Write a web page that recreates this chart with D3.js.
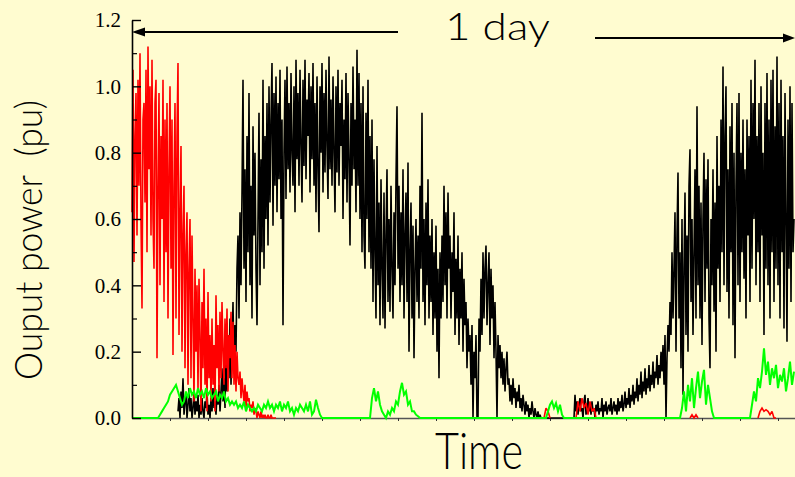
<!DOCTYPE html>
<html><head><meta charset="utf-8">
<script src="https://cdn.jsdelivr.net/npm/d3@7"></script>
<style>html,body{margin:0;padding:0;background:#FFFCD0;} svg{display:block;}</style>
</head><body><svg id="c" width="795" height="477"></svg>
<script>
// ---- data: time axis in samples (t = 0 .. 663) ----
const tMax = 663;
const yTicks = [0, 0.2, 0.4, 0.6, 0.8, 1.0, 1.2];
const yMinorTicks = [0.1, 0.3, 0.5, 0.7, 0.9, 1.1];
const timeTicks = [38, 76, 114, 152, 190, 228, 266, 304, 342, 380, 418, 456, 494, 532, 570, 608, 646];

// black series, one value per sample from t = 46
const blackStart = 46;
const blackValues = [
  0.02,0.06,0.0,0.08,0.03,0.12,0.01,0.05,0.07,0.0,0.04,0.09,0.02,0.06,0.0,0.03,0.08,0.01,0.05,0.02,
  0.07,0.0,0.04,0.01,0.06,0.02,0.0,0.05,0.03,0.08,0.01,0.04,0.0,0.06,0.02,0.09,0.03,0.05,0.01,0.07,
  0.04,0.1,0.02,0.08,0.15,0.05,0.12,0.03,0.2,0.08,0.25,0.12,0.3,0.1,0.22,0.35,0.15,0.28,0.2,0.45,
  0.55,0.3,0.62,0.4,0.68,1.02,0.45,0.75,0.35,0.85,0.5,0.98,0.4,0.7,0.3,0.88,0.55,0.8,0.45,0.28,
  0.6,0.92,0.4,0.78,0.5,1.02,0.45,0.85,0.6,0.95,0.52,1.0,0.65,0.9,1.07,0.58,0.98,0.7,1.03,0.62,
  0.95,0.72,1.05,0.6,0.9,0.28,0.8,1.02,0.66,1.06,0.75,0.95,0.68,1.04,0.8,0.7,1.0,0.62,1.08,0.78,
  0.98,0.7,1.05,0.82,0.65,1.02,0.76,1.08,0.72,0.96,0.85,1.04,0.68,1.0,0.78,1.07,0.7,0.95,0.62,1.03,
  0.75,0.56,1.0,0.8,1.07,0.68,0.98,0.74,1.05,0.82,0.66,1.09,0.75,0.96,0.7,1.03,0.8,0.62,1.0,0.74,
  1.05,0.7,0.95,0.82,1.02,0.6,0.9,0.72,1.04,0.65,0.98,0.78,0.52,0.95,0.7,1.06,0.75,0.9,0.62,1.11,
  0.7,1.04,0.6,0.95,0.5,1.0,0.55,0.45,0.92,0.6,1.02,0.5,0.85,0.45,0.9,0.35,0.78,0.5,0.3,0.82,
  0.4,0.65,0.28,0.72,0.45,0.3,0.68,0.27,0.55,0.75,0.35,0.6,0.32,0.7,0.45,0.3,0.62,0.4,0.72,0.94,
  0.45,0.7,0.35,0.62,0.4,0.75,0.3,0.55,0.68,0.35,0.77,0.2,0.5,0.65,0.3,0.58,0.18,0.45,0.6,0.35,
  0.55,0.3,0.7,0.45,0.92,0.35,0.6,0.28,0.65,0.4,0.72,0.3,0.55,0.35,0.6,0.25,0.5,0.3,0.58,0.2,
  0.45,0.12,0.5,0.3,0.55,0.35,0.7,0.4,0.62,0.3,0.68,0.45,0.55,0.3,0.5,0.38,0.62,0.25,0.48,0.3,
  0.55,0.22,0.45,0.3,0.5,0.2,0.42,0.28,0.35,0.15,0.3,0.2,0.25,0.1,0.28,0.0,0.2,0.12,0.25,0.0,
  0.0,0.3,0.2,0.42,0.25,0.5,0.3,0.45,0.52,0.28,0.4,0.5,0.22,0.45,0.3,0.4,0.18,0.35,0.2,0.0,
  0.25,0.15,0.22,0.12,0.2,0.1,0.18,0.08,0.15,0.2,0.1,0.12,0.05,0.1,0.04,0.12,0.06,0.09,0.03,0.08,
  0.05,0.1,0.03,0.06,0.02,0.07,0.04,0.01,0.05,0.02,0.04,0.0,0.03,0.01,0.05,0.02,0.0,0.03,0.01,0.0,
  0.02,0.0,0.01,0,0,0,0,0,0,0,0,0,0,0,0,0,0,0,0,0,
  0,0,0,0,0,0,0,0,0,0,0,0,0,0,0,0,0,0.07,0.02,0.05,
  0.01,0.04,0.06,0.02,0.03,0.0,0.05,0.07,0.01,0.03,0.06,0.02,0.04,0.01,0.05,0.02,0.03,0.0,0.04,0.02,
  0.05,0.01,0.03,0.02,0.06,0.0,0.04,0.02,0.05,0.01,0.03,0.04,0.02,0.06,0.01,0.03,0.05,0.02,0.04,0.01,
  0.06,0.02,0.05,0.03,0.07,0.02,0.04,0.08,0.03,0.06,0.04,0.09,0.03,0.07,0.05,0.1,0.04,0.08,0.06,0.12,
  0.05,0.1,0.07,0.14,0.06,0.11,0.08,0.15,0.07,0.12,0.09,0.16,0.08,0.13,0.1,0.17,0.09,0.14,0.12,0.19,
  0.1,0.16,0.12,0.2,0.14,0.22,0.1,0.25,0.0,0.18,0.28,0.2,0.35,0.25,0.5,0.3,0.45,0.62,0.2,0.55,
  0.74,0.3,0.5,0.15,0.6,0.07,0.45,0.68,0.25,0.55,0.2,0.7,0.81,0.35,0.6,0.25,0.5,0.75,0.3,0.94,
  0.4,0.7,0.3,0.65,0.22,0.6,0.8,0.35,0.72,0.45,0.78,0.3,0.15,0.6,0.4,0.75,0.32,0.65,0.2,0.85,
  0.45,0.7,0.35,0.9,0.5,1.06,0.4,0.85,1.0,0.38,0.75,0.3,0.88,0.5,0.95,0.28,0.8,0.18,0.7,0.95,
  0.4,0.98,0.35,0.8,0.5,0.9,0.42,0.75,0.3,0.9,0.55,0.85,0.35,1.02,0.45,0.95,0.6,1.08,0.4,0.85,
  0.5,0.95,0.35,1.0,0.55,0.8,0.25,0.95,0.45,1.04,0.4,0.9,0.3,1.02,0.5,1.05,0.35,0.88,0.45,1.09,
  0.4,0.95,0.3,1.02,0.5,0.85,0.27,0.98,0.6,0.23,0.9,0.45,1.0,0.35,0.95,0.5,0.6
];

// red series, one value per sample from t = 0
const redMorningStart = 0;
const redMorning = [
  0.62,1.05,0.47,0.85,0.98,0.55,1.02,0.7,1.1,0.6,0.33,0.9,0.95,0.65,1.05,0.5,1.12,0.75,1.0,0.55,
  1.08,0.6,0.45,0.95,1.02,0.18,0.7,0.98,0.4,0.85,0.6,1.02,0.35,0.9,0.5,0.95,0.3,0.75,1.0,0.45,
  0.9,0.19,0.7,0.95,0.3,0.85,1.07,0.25,0.6,0.82,0.2,0.55,0.7,0.15,0.5,0.62,0.1,0.45,0.6,0.12,
  0.55,0.3,0.05,0.45,0.2,0.4,0.08,0.42,0.25,0.02,0.35,0.15,0.45,0.1,0.3,0.02,0.38,0.12,0.25,0.05,
  0.3,0.1,0.22,0.02,0.37,0.15,0.28,0.08,0.32,0.12,0.35,0.2,0.1,0.3,0.15,0.33,0.08,0.25,0.18,0.32,
  0.12,0.29,0.1,0.22,0.08,0.2,0.12,0.1,0.14,0.06,0.12,0.08,0.05,0.1,0.03,0.08,0.05,0.06,0.02,0.04,
  0.03,0.05,0.01,0.03,0.02,0.0,0.02,0.01,0.0,0.02,0.0,0.01,0.0,0.01,0.0,0.0,0.01,0.0,0.0,0.01,0,0,0,0,0
];
// short red bursts, one value every 2 samples
const redNoonStart = 412;
const redNoon = [0,0.03,0.02,0];
const redDuskStart = 444;
const redDusk = [0,0.05,0.02,0.06,0.03,0.045,0.01,0.05,0.02,0.03,0.0];
const redLateStart = 558;
const redLate = [0,0.01,0,0.01,0];
const redEveningStart = 626;
const redEvening = [0,0.02,0.03,0.02,0.025,0.02,0.01,0.02,0,0];

// green series, one value every 2 samples
const greenMorningStart = 26;
const greenMorning = [
  0,0.01,0.02,0.03,0.04,0.05,0.07,0.08,
  0.09,0.1,0.08,0.06,0.04,0.05,0.08,0.06,0.09,0.07,
  0.08,0.06,0.09,0.07,0.08,0.06,0.09,0.07,0.08,0.06,
  0.07,0.08,0.05,0.07,0.06,0.08,0.05,0.06,0.04,0.05,
  0.04,0.05,0.03,0.04,0.03,0.05,0.02,0.04,0.03,0.02,
  0.03,0.02,0.04,0.03,0.02,0.04,0.03,0.05,0.03,0.04,
  0.02,0.04,0.03,0.05,0.02,0.04,0.03,0.05,0.02,0.03,
  0.01,0.03,0.02,0.04,0.03,0.02,0.04,0.02,0.05,0.01,
  0.02,0.055,0.03,0.01,0.0,0.0
];
const greenAfternoonStart = 238;
const greenAfternoon = [0,0.06,0.09,0.05,0.08,0.04,0.02,0.01,0.0,0.02,0.01,0.03,0.02,0.05,0.04,0.08,0.106,0.07,0.08,0.04,0.05,0.02,0.02,0.01,0.005,0];
const greenDuskStart = 414;
const greenDusk = [0,0.02,0.04,0.05,0.03,0.045,0.02,0.04,0.01,0];
const greenDawnStart = 548;
const greenDawn = [0,0.03,0.08,0.02,0.1,0.05,0.12,0.03,0.09,0.14,0.06,0.11,0.145,0.04,0.1,0.06,0.02,0];
const greenDay2Start = 618;
const greenDay2 = [0,0.04,0.08,0.05,0.12,0.09,0.14,0.21,0.13,0.17,0.1,0.15,0.12,0.16,0.09,0.13,0.11,0.15,0.08,0.12,0.17,0.1,0.14];

// ---- drawing ----
const W = 795, H = 477, BG = "#FFFCD0";
const svg = d3.select("#c");
svg.append("rect").attr("width", W).attr("height", H).attr("fill", BG);

const x = d3.scaleLinear().domain([0, tMax]).range([132, 795]);
const y = d3.scaleLinear().domain([0, 1.2]).range([418, 20]);

const toPts = (start, vals, step) => vals.map((v, k) => ({t: start + k * step, v}));
const line = d3.line().x(d => x(d.t)).y(d => y(d.v));

// bottom axis
const gx = svg.append("g").attr("transform", `translate(0,${y(0)})`)
  .call(d3.axisBottom(x).tickValues(timeTicks).tickSize(3).tickSizeOuter(0).tickFormat(""));
gx.select(".domain").attr("stroke", "#555").attr("stroke-width", 1.5);
gx.selectAll(".tick line").attr("stroke", "#333");

// black series
svg.append("path").datum(toPts(blackStart, blackValues, 1))
  .attr("d", line).attr("fill", "none").attr("stroke", "#000").attr("stroke-width", 1.6)
  .attr("stroke-linejoin", "miter").attr("stroke-miterlimit", 2);

// red series
[[redMorningStart, redMorning, 1], [redNoonStart, redNoon, 2], [redDuskStart, redDusk, 2], [redLateStart, redLate, 2], [redEveningStart, redEvening, 2]]
  .forEach(([s, v, st]) => {
    svg.append("path").datum(toPts(s, v, st)).attr("d", line)
      .attr("fill", "none").attr("stroke", "#FF0000").attr("stroke-width", 1.6).attr("stroke-miterlimit", 2);
  });

// green series: zero baseline across the whole span, with active segments
const greenFull = new Array(Math.floor(tMax / 2) + 1).fill(0);
[[greenMorningStart, greenMorning], [greenAfternoonStart, greenAfternoon], [greenDuskStart, greenDusk], [greenDawnStart, greenDawn], [greenDay2Start, greenDay2]]
  .forEach(([s, v]) => v.forEach((val, k) => { greenFull[s / 2 + k] = val; }));
svg.append("path").datum(toPts(0, greenFull, 2)).attr("d", line)
  .attr("fill", "none").attr("stroke", "#00FF00").attr("stroke-width", 2.0);

// left axis
const gy = svg.append("g").attr("transform", `translate(${x(0)},0)`)
  .call(d3.axisLeft(y).tickValues(yTicks).tickSize(-9).tickSizeOuter(0).tickPadding(11).tickFormat(d3.format(".1f")));
gy.select(".domain").attr("stroke", "#000").attr("stroke-width", 1.6);
gy.selectAll(".tick line").attr("stroke", "#000").attr("stroke-width", 1.4);
gy.selectAll(".tick text").attr("font-family", "'Liberation Serif', 'DejaVu Serif', serif")
  .attr("font-size", 21).attr("fill", "#000");
const gym = svg.append("g").attr("transform", `translate(${x(0)},0)`)
  .call(d3.axisLeft(y).tickValues(yMinorTicks).tickSize(-5).tickFormat(""));
gym.select(".domain").remove();
gym.selectAll(".tick line").attr("stroke", "#000").attr("stroke-width", 1.2);

// titles
const thin = "Lato, 'DejaVu Sans', sans-serif";
svg.append("text").attr("transform", "translate(42,240) rotate(-90)")
  .attr("text-anchor", "middle").attr("font-family", thin).attr("font-weight", 300)
  .attr("font-size", 37).attr("textLength", 280).attr("lengthAdjust", "spacingAndGlyphs")
  .attr("fill", "#000").text("Ouput power\u00A0\u00A0(pu)");
svg.append("text").attr("x", 435).attr("y", 469)
  .attr("font-family", thin).attr("font-weight", 300).attr("font-size", 52)
  .attr("textLength", 88).attr("lengthAdjust", "spacingAndGlyphs").attr("fill", "#000").text("Time");

// "1 day" annotation
svg.append("text").attr("x", 445).attr("y", 40)
  .attr("font-family", thin).attr("font-weight", 300).attr("font-size", 38)
  .attr("textLength", 105).attr("lengthAdjust", "spacingAndGlyphs").attr("fill", "#000").text("1 day");
svg.append("line").attr("x1", 140).attr("x2", 398).attr("y1", 32).attr("y2", 32).attr("stroke", "#000").attr("stroke-width", 2);
svg.append("polygon").attr("points", "132,32 145,27.5 145,36.5").attr("fill", "#000");
svg.append("line").attr("x1", 595).attr("x2", 787).attr("y1", 38).attr("y2", 38).attr("stroke", "#000").attr("stroke-width", 2);
svg.append("polygon").attr("points", "795,38 783,33.5 783,42.5").attr("fill", "#000");
</script>
</body></html>
